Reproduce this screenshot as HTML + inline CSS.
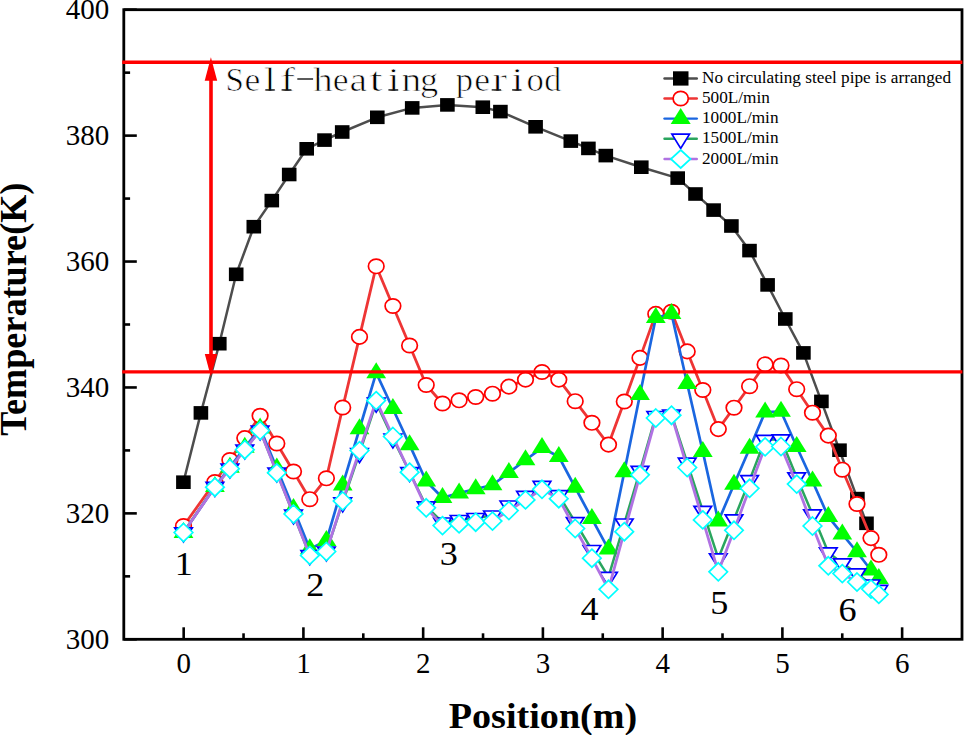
<!DOCTYPE html>
<html><head><meta charset="utf-8"><style>
html,body{margin:0;padding:0;background:#fff;width:964px;height:735px;overflow:hidden;font-family:"Liberation Serif",serif;}
svg{display:block;}
</style></head><body>
<svg width="964" height="735" viewBox="0 0 964 735"><rect x="123.8" y="9.7" width="838.2" height="629.5999999999999" fill="none" stroke="#000" stroke-width="2.8"/>
<line x1="123.8" y1="639.30" x2="136.8" y2="639.30" stroke="#000" stroke-width="2.6"/>
<line x1="123.8" y1="576.34" x2="130.1" y2="576.34" stroke="#000" stroke-width="2.6"/>
<line x1="123.8" y1="513.38" x2="136.8" y2="513.38" stroke="#000" stroke-width="2.6"/>
<line x1="123.8" y1="450.42" x2="130.1" y2="450.42" stroke="#000" stroke-width="2.6"/>
<line x1="123.8" y1="387.46" x2="136.8" y2="387.46" stroke="#000" stroke-width="2.6"/>
<line x1="123.8" y1="324.50" x2="130.1" y2="324.50" stroke="#000" stroke-width="2.6"/>
<line x1="123.8" y1="261.54" x2="136.8" y2="261.54" stroke="#000" stroke-width="2.6"/>
<line x1="123.8" y1="198.58" x2="130.1" y2="198.58" stroke="#000" stroke-width="2.6"/>
<line x1="123.8" y1="135.62" x2="136.8" y2="135.62" stroke="#000" stroke-width="2.6"/>
<line x1="123.8" y1="72.66" x2="130.1" y2="72.66" stroke="#000" stroke-width="2.6"/>
<line x1="123.8" y1="9.70" x2="136.8" y2="9.70" stroke="#000" stroke-width="2.6"/>
<line x1="183.67" y1="639.3" x2="183.67" y2="627.3" stroke="#000" stroke-width="2.6"/>
<line x1="243.54" y1="639.3" x2="243.54" y2="633.3" stroke="#000" stroke-width="2.6"/>
<line x1="303.41" y1="639.3" x2="303.41" y2="627.3" stroke="#000" stroke-width="2.6"/>
<line x1="363.29" y1="639.3" x2="363.29" y2="633.3" stroke="#000" stroke-width="2.6"/>
<line x1="423.16" y1="639.3" x2="423.16" y2="627.3" stroke="#000" stroke-width="2.6"/>
<line x1="483.03" y1="639.3" x2="483.03" y2="633.3" stroke="#000" stroke-width="2.6"/>
<line x1="542.90" y1="639.3" x2="542.90" y2="627.3" stroke="#000" stroke-width="2.6"/>
<line x1="602.77" y1="639.3" x2="602.77" y2="633.3" stroke="#000" stroke-width="2.6"/>
<line x1="662.64" y1="639.3" x2="662.64" y2="627.3" stroke="#000" stroke-width="2.6"/>
<line x1="722.51" y1="639.3" x2="722.51" y2="633.3" stroke="#000" stroke-width="2.6"/>
<line x1="782.39" y1="639.3" x2="782.39" y2="627.3" stroke="#000" stroke-width="2.6"/>
<line x1="842.26" y1="639.3" x2="842.26" y2="633.3" stroke="#000" stroke-width="2.6"/>
<line x1="902.13" y1="639.3" x2="902.13" y2="627.3" stroke="#000" stroke-width="2.6"/>
<polyline points="183.4,482.2 200.9,412.9 219.3,343.7 236.2,274.3 253.8,226.7 271.8,200.6 289.2,174.5 306.7,148.8 324.5,140.1 342.2,132.0 377.3,117.3 412.2,107.9 447.4,104.9 482.8,107.2 500.4,111.6 535.6,126.8 570.8,141.1 588.4,148.4 605.8,155.6 641.3,167.2 677.7,178.1 695.5,194.0 713.6,210.1 731.4,226.0 749.5,250.6 767.6,284.9 785.3,319.0 803.4,352.9 821.4,401.4 839.5,450.2 857.4,498.6 866.5,523.3" fill="none" stroke="#4d4d4d" stroke-width="2.5" stroke-linejoin="round" stroke-linecap="round"/>
<rect x="176.1" y="475.4" width="14.6" height="13.6" fill="#000"/>
<rect x="193.6" y="406.1" width="14.6" height="13.6" fill="#000"/>
<rect x="212.0" y="336.9" width="14.6" height="13.6" fill="#000"/>
<rect x="228.9" y="267.5" width="14.6" height="13.6" fill="#000"/>
<rect x="246.5" y="219.9" width="14.6" height="13.6" fill="#000"/>
<rect x="264.5" y="193.8" width="14.6" height="13.6" fill="#000"/>
<rect x="281.9" y="167.7" width="14.6" height="13.6" fill="#000"/>
<rect x="299.4" y="142.0" width="14.6" height="13.6" fill="#000"/>
<rect x="317.2" y="133.3" width="14.6" height="13.6" fill="#000"/>
<rect x="334.9" y="125.2" width="14.6" height="13.6" fill="#000"/>
<rect x="370.0" y="110.5" width="14.6" height="13.6" fill="#000"/>
<rect x="404.9" y="101.1" width="14.6" height="13.6" fill="#000"/>
<rect x="440.1" y="98.1" width="14.6" height="13.6" fill="#000"/>
<rect x="475.5" y="100.4" width="14.6" height="13.6" fill="#000"/>
<rect x="493.1" y="104.8" width="14.6" height="13.6" fill="#000"/>
<rect x="528.3" y="120.0" width="14.6" height="13.6" fill="#000"/>
<rect x="563.5" y="134.3" width="14.6" height="13.6" fill="#000"/>
<rect x="581.1" y="141.6" width="14.6" height="13.6" fill="#000"/>
<rect x="598.5" y="148.8" width="14.6" height="13.6" fill="#000"/>
<rect x="634.0" y="160.4" width="14.6" height="13.6" fill="#000"/>
<rect x="670.4" y="171.3" width="14.6" height="13.6" fill="#000"/>
<rect x="688.2" y="187.2" width="14.6" height="13.6" fill="#000"/>
<rect x="706.3" y="203.3" width="14.6" height="13.6" fill="#000"/>
<rect x="724.1" y="219.2" width="14.6" height="13.6" fill="#000"/>
<rect x="742.2" y="243.8" width="14.6" height="13.6" fill="#000"/>
<rect x="760.3" y="278.1" width="14.6" height="13.6" fill="#000"/>
<rect x="778.0" y="312.2" width="14.6" height="13.6" fill="#000"/>
<rect x="796.1" y="346.1" width="14.6" height="13.6" fill="#000"/>
<rect x="814.1" y="394.6" width="14.6" height="13.6" fill="#000"/>
<rect x="832.2" y="443.4" width="14.6" height="13.6" fill="#000"/>
<rect x="850.1" y="491.8" width="14.6" height="13.6" fill="#000"/>
<rect x="859.2" y="516.5" width="14.6" height="13.6" fill="#000"/>
<polyline points="183.5,526.0 214.9,482.0 229.9,460.0 244.8,438.1 260.1,415.8 276.8,443.5 293.5,471.5 309.8,499.2 326.4,478.3 342.7,407.5 359.5,336.9 376.2,266.3 392.9,306.0 409.6,345.5 426.2,385.0 442.5,403.5 459.1,400.3 475.7,397.0 492.5,393.7 508.9,386.6 525.5,379.6 542.0,372.0 558.8,379.6 575.2,401.2 591.9,422.8 608.5,444.6 624.3,401.5 640.0,357.9 655.8,313.9 671.5,311.8 687.2,351.4 702.8,390.0 718.3,429.1 734.0,407.7 749.6,386.2 765.1,364.4 781.0,365.5 796.7,389.2 812.5,412.7 828.3,435.6 842.3,469.7 857.0,504.0 871.0,538.1 878.8,554.8" fill="none" stroke="#ee3535" stroke-width="2.8" stroke-linejoin="round" stroke-linecap="round"/>
<ellipse cx="183.5" cy="526.0" rx="7.8" ry="7.2" fill="#fff" stroke="#ff0000" stroke-width="1.7"/>
<ellipse cx="214.9" cy="482.0" rx="7.8" ry="7.2" fill="#fff" stroke="#ff0000" stroke-width="1.7"/>
<ellipse cx="229.9" cy="460.0" rx="7.8" ry="7.2" fill="#fff" stroke="#ff0000" stroke-width="1.7"/>
<ellipse cx="244.8" cy="438.1" rx="7.8" ry="7.2" fill="#fff" stroke="#ff0000" stroke-width="1.7"/>
<ellipse cx="260.1" cy="415.8" rx="7.8" ry="7.2" fill="#fff" stroke="#ff0000" stroke-width="1.7"/>
<ellipse cx="276.8" cy="443.5" rx="7.8" ry="7.2" fill="#fff" stroke="#ff0000" stroke-width="1.7"/>
<ellipse cx="293.5" cy="471.5" rx="7.8" ry="7.2" fill="#fff" stroke="#ff0000" stroke-width="1.7"/>
<ellipse cx="309.8" cy="499.2" rx="7.8" ry="7.2" fill="#fff" stroke="#ff0000" stroke-width="1.7"/>
<ellipse cx="326.4" cy="478.3" rx="7.8" ry="7.2" fill="#fff" stroke="#ff0000" stroke-width="1.7"/>
<ellipse cx="342.7" cy="407.5" rx="7.8" ry="7.2" fill="#fff" stroke="#ff0000" stroke-width="1.7"/>
<ellipse cx="359.5" cy="336.9" rx="7.8" ry="7.2" fill="#fff" stroke="#ff0000" stroke-width="1.7"/>
<ellipse cx="376.2" cy="266.3" rx="7.8" ry="7.2" fill="#fff" stroke="#ff0000" stroke-width="1.7"/>
<ellipse cx="392.9" cy="306.0" rx="7.8" ry="7.2" fill="#fff" stroke="#ff0000" stroke-width="1.7"/>
<ellipse cx="409.6" cy="345.5" rx="7.8" ry="7.2" fill="#fff" stroke="#ff0000" stroke-width="1.7"/>
<ellipse cx="426.2" cy="385.0" rx="7.8" ry="7.2" fill="#fff" stroke="#ff0000" stroke-width="1.7"/>
<ellipse cx="442.5" cy="403.5" rx="7.8" ry="7.2" fill="#fff" stroke="#ff0000" stroke-width="1.7"/>
<ellipse cx="459.1" cy="400.3" rx="7.8" ry="7.2" fill="#fff" stroke="#ff0000" stroke-width="1.7"/>
<ellipse cx="475.7" cy="397.0" rx="7.8" ry="7.2" fill="#fff" stroke="#ff0000" stroke-width="1.7"/>
<ellipse cx="492.5" cy="393.7" rx="7.8" ry="7.2" fill="#fff" stroke="#ff0000" stroke-width="1.7"/>
<ellipse cx="508.9" cy="386.6" rx="7.8" ry="7.2" fill="#fff" stroke="#ff0000" stroke-width="1.7"/>
<ellipse cx="525.5" cy="379.6" rx="7.8" ry="7.2" fill="#fff" stroke="#ff0000" stroke-width="1.7"/>
<ellipse cx="542.0" cy="372.0" rx="7.8" ry="7.2" fill="#fff" stroke="#ff0000" stroke-width="1.7"/>
<ellipse cx="558.8" cy="379.6" rx="7.8" ry="7.2" fill="#fff" stroke="#ff0000" stroke-width="1.7"/>
<ellipse cx="575.2" cy="401.2" rx="7.8" ry="7.2" fill="#fff" stroke="#ff0000" stroke-width="1.7"/>
<ellipse cx="591.9" cy="422.8" rx="7.8" ry="7.2" fill="#fff" stroke="#ff0000" stroke-width="1.7"/>
<ellipse cx="608.5" cy="444.6" rx="7.8" ry="7.2" fill="#fff" stroke="#ff0000" stroke-width="1.7"/>
<ellipse cx="624.3" cy="401.5" rx="7.8" ry="7.2" fill="#fff" stroke="#ff0000" stroke-width="1.7"/>
<ellipse cx="640.0" cy="357.9" rx="7.8" ry="7.2" fill="#fff" stroke="#ff0000" stroke-width="1.7"/>
<ellipse cx="655.8" cy="313.9" rx="7.8" ry="7.2" fill="#fff" stroke="#ff0000" stroke-width="1.7"/>
<ellipse cx="671.5" cy="311.8" rx="7.8" ry="7.2" fill="#fff" stroke="#ff0000" stroke-width="1.7"/>
<ellipse cx="687.2" cy="351.4" rx="7.8" ry="7.2" fill="#fff" stroke="#ff0000" stroke-width="1.7"/>
<ellipse cx="702.8" cy="390.0" rx="7.8" ry="7.2" fill="#fff" stroke="#ff0000" stroke-width="1.7"/>
<ellipse cx="718.3" cy="429.1" rx="7.8" ry="7.2" fill="#fff" stroke="#ff0000" stroke-width="1.7"/>
<ellipse cx="734.0" cy="407.7" rx="7.8" ry="7.2" fill="#fff" stroke="#ff0000" stroke-width="1.7"/>
<ellipse cx="749.6" cy="386.2" rx="7.8" ry="7.2" fill="#fff" stroke="#ff0000" stroke-width="1.7"/>
<ellipse cx="765.1" cy="364.4" rx="7.8" ry="7.2" fill="#fff" stroke="#ff0000" stroke-width="1.7"/>
<ellipse cx="781.0" cy="365.5" rx="7.8" ry="7.2" fill="#fff" stroke="#ff0000" stroke-width="1.7"/>
<ellipse cx="796.7" cy="389.2" rx="7.8" ry="7.2" fill="#fff" stroke="#ff0000" stroke-width="1.7"/>
<ellipse cx="812.5" cy="412.7" rx="7.8" ry="7.2" fill="#fff" stroke="#ff0000" stroke-width="1.7"/>
<ellipse cx="828.3" cy="435.6" rx="7.8" ry="7.2" fill="#fff" stroke="#ff0000" stroke-width="1.7"/>
<ellipse cx="842.3" cy="469.7" rx="7.8" ry="7.2" fill="#fff" stroke="#ff0000" stroke-width="1.7"/>
<ellipse cx="857.0" cy="504.0" rx="7.8" ry="7.2" fill="#fff" stroke="#ff0000" stroke-width="1.7"/>
<ellipse cx="871.0" cy="538.1" rx="7.8" ry="7.2" fill="#fff" stroke="#ff0000" stroke-width="1.7"/>
<ellipse cx="878.8" cy="554.8" rx="7.8" ry="7.2" fill="#fff" stroke="#ff0000" stroke-width="1.7"/>
<polyline points="183.5,532.7 214.9,486.7 229.9,467.4 244.8,447.5 260.1,428.2 276.8,468.3 293.5,508.8 309.8,548.9 326.4,540.8 342.7,485.1 359.5,429.0 376.2,372.9 392.9,408.8 409.6,444.9 426.2,481.3 442.5,497.7 459.1,493.1 475.7,489.0 492.5,485.0 508.9,472.6 525.5,460.0 542.0,447.8 558.8,456.7 575.2,487.5 591.9,518.7 608.5,549.3 624.3,471.9 640.0,394.6 655.8,317.7 671.5,313.8 687.2,383.7 702.8,451.7 718.3,521.3 734.0,484.5 749.6,448.5 765.1,412.1 781.0,411.5 796.7,446.8 812.5,481.3 828.3,516.7 842.3,534.1 857.0,552.0 871.0,570.2 878.8,578.7" fill="none" stroke="#1a66e0" stroke-width="2.7" stroke-linejoin="round" stroke-linecap="round"/>
<path d="M183.5 522.0L193.4 538.0L173.6 538.0Z" fill="#00ff00"/>
<path d="M214.9 476.0L224.8 492.0L205.0 492.0Z" fill="#00ff00"/>
<path d="M229.9 456.7L239.8 472.7L220.0 472.7Z" fill="#00ff00"/>
<path d="M244.8 436.8L254.7 452.8L234.9 452.8Z" fill="#00ff00"/>
<path d="M260.1 417.5L270.0 433.5L250.2 433.5Z" fill="#00ff00"/>
<path d="M276.8 457.6L286.7 473.6L266.9 473.6Z" fill="#00ff00"/>
<path d="M293.5 498.1L303.4 514.1L283.6 514.1Z" fill="#00ff00"/>
<path d="M309.8 538.2L319.7 554.2L299.9 554.2Z" fill="#00ff00"/>
<path d="M326.4 530.1L336.3 546.1L316.5 546.1Z" fill="#00ff00"/>
<path d="M342.7 474.4L352.6 490.4L332.8 490.4Z" fill="#00ff00"/>
<path d="M359.5 418.3L369.4 434.3L349.6 434.3Z" fill="#00ff00"/>
<path d="M376.2 362.2L386.1 378.2L366.3 378.2Z" fill="#00ff00"/>
<path d="M392.9 398.1L402.8 414.1L383.0 414.1Z" fill="#00ff00"/>
<path d="M409.6 434.2L419.5 450.2L399.7 450.2Z" fill="#00ff00"/>
<path d="M426.2 470.6L436.1 486.6L416.3 486.6Z" fill="#00ff00"/>
<path d="M442.5 487.0L452.4 503.0L432.6 503.0Z" fill="#00ff00"/>
<path d="M459.1 482.4L469.0 498.4L449.2 498.4Z" fill="#00ff00"/>
<path d="M475.7 478.3L485.6 494.3L465.8 494.3Z" fill="#00ff00"/>
<path d="M492.5 474.3L502.4 490.3L482.6 490.3Z" fill="#00ff00"/>
<path d="M508.9 461.9L518.8 477.9L499.0 477.9Z" fill="#00ff00"/>
<path d="M525.5 449.3L535.4 465.3L515.6 465.3Z" fill="#00ff00"/>
<path d="M542.0 437.1L551.9 453.1L532.1 453.1Z" fill="#00ff00"/>
<path d="M558.8 446.0L568.7 462.0L548.9 462.0Z" fill="#00ff00"/>
<path d="M575.2 476.8L585.1 492.8L565.3 492.8Z" fill="#00ff00"/>
<path d="M591.9 508.0L601.8 524.0L582.0 524.0Z" fill="#00ff00"/>
<path d="M608.5 538.6L618.4 554.6L598.6 554.6Z" fill="#00ff00"/>
<path d="M624.3 461.2L634.2 477.2L614.4 477.2Z" fill="#00ff00"/>
<path d="M640.0 383.9L649.9 399.9L630.1 399.9Z" fill="#00ff00"/>
<path d="M655.8 307.0L665.7 323.0L645.9 323.0Z" fill="#00ff00"/>
<path d="M671.5 303.1L681.4 319.1L661.6 319.1Z" fill="#00ff00"/>
<path d="M687.2 373.0L697.1 389.0L677.3 389.0Z" fill="#00ff00"/>
<path d="M702.8 441.0L712.7 457.0L692.9 457.0Z" fill="#00ff00"/>
<path d="M718.3 510.6L728.2 526.6L708.4 526.6Z" fill="#00ff00"/>
<path d="M734.0 473.8L743.9 489.8L724.1 489.8Z" fill="#00ff00"/>
<path d="M749.6 437.8L759.5 453.8L739.7 453.8Z" fill="#00ff00"/>
<path d="M765.1 401.4L775.0 417.4L755.2 417.4Z" fill="#00ff00"/>
<path d="M781.0 400.8L790.9 416.8L771.1 416.8Z" fill="#00ff00"/>
<path d="M796.7 436.1L806.6 452.1L786.8 452.1Z" fill="#00ff00"/>
<path d="M812.5 470.6L822.4 486.6L802.6 486.6Z" fill="#00ff00"/>
<path d="M828.3 506.0L838.2 522.0L818.4 522.0Z" fill="#00ff00"/>
<path d="M842.3 523.4L852.2 539.4L832.4 539.4Z" fill="#00ff00"/>
<path d="M857.0 541.3L866.9 557.3L847.1 557.3Z" fill="#00ff00"/>
<path d="M871.0 559.5L880.9 575.5L861.1 575.5Z" fill="#00ff00"/>
<path d="M878.8 568.0L888.7 584.0L868.9 584.0Z" fill="#00ff00"/>
<polyline points="183.5,532.3 214.9,486.9 229.9,468.5 244.8,449.5 260.1,430.5 276.8,472.5 293.5,514.5 309.8,555.2 326.4,551.5 342.7,502.3 359.5,453.2 376.2,402.6 392.9,438.5 409.6,472.0 426.2,506.3 442.5,522.5 459.1,520.0 475.7,518.0 492.5,515.5 508.9,505.5 525.5,495.9 542.0,485.9 558.8,495.1 575.2,522.2 591.9,550.0 608.5,576.9 624.3,523.5 640.0,470.8 655.8,416.0 671.5,414.5 687.2,462.7 702.8,510.8 718.3,558.3 734.0,519.3 749.6,480.1 765.1,439.8 781.0,439.3 796.7,477.3 812.5,514.3 828.3,552.4 842.3,563.3 857.0,573.3 871.0,584.5 878.8,589.9" fill="none" stroke="#2aa55e" stroke-width="2.5" stroke-linejoin="round" stroke-linecap="round"/>
<path d="M174.7 527.8L192.3 527.8L183.5 541.8Z" fill="#fff" stroke="#0000ff" stroke-width="1.7" stroke-linejoin="miter"/>
<path d="M206.1 482.4L223.7 482.4L214.9 496.4Z" fill="#fff" stroke="#0000ff" stroke-width="1.7" stroke-linejoin="miter"/>
<path d="M221.1 464.0L238.7 464.0L229.9 478.0Z" fill="#fff" stroke="#0000ff" stroke-width="1.7" stroke-linejoin="miter"/>
<path d="M236.0 445.0L253.6 445.0L244.8 459.0Z" fill="#fff" stroke="#0000ff" stroke-width="1.7" stroke-linejoin="miter"/>
<path d="M251.3 426.0L268.9 426.0L260.1 440.0Z" fill="#fff" stroke="#0000ff" stroke-width="1.7" stroke-linejoin="miter"/>
<path d="M268.0 468.0L285.6 468.0L276.8 482.0Z" fill="#fff" stroke="#0000ff" stroke-width="1.7" stroke-linejoin="miter"/>
<path d="M284.7 510.0L302.3 510.0L293.5 524.0Z" fill="#fff" stroke="#0000ff" stroke-width="1.7" stroke-linejoin="miter"/>
<path d="M301.0 550.7L318.6 550.7L309.8 564.7Z" fill="#fff" stroke="#0000ff" stroke-width="1.7" stroke-linejoin="miter"/>
<path d="M317.6 547.0L335.2 547.0L326.4 561.0Z" fill="#fff" stroke="#0000ff" stroke-width="1.7" stroke-linejoin="miter"/>
<path d="M333.9 497.8L351.5 497.8L342.7 511.8Z" fill="#fff" stroke="#0000ff" stroke-width="1.7" stroke-linejoin="miter"/>
<path d="M350.7 448.7L368.3 448.7L359.5 462.7Z" fill="#fff" stroke="#0000ff" stroke-width="1.7" stroke-linejoin="miter"/>
<path d="M367.4 398.1L385.0 398.1L376.2 412.1Z" fill="#fff" stroke="#0000ff" stroke-width="1.7" stroke-linejoin="miter"/>
<path d="M384.1 434.0L401.7 434.0L392.9 448.0Z" fill="#fff" stroke="#0000ff" stroke-width="1.7" stroke-linejoin="miter"/>
<path d="M400.8 467.5L418.4 467.5L409.6 481.5Z" fill="#fff" stroke="#0000ff" stroke-width="1.7" stroke-linejoin="miter"/>
<path d="M417.4 501.8L435.0 501.8L426.2 515.8Z" fill="#fff" stroke="#0000ff" stroke-width="1.7" stroke-linejoin="miter"/>
<path d="M433.7 518.0L451.3 518.0L442.5 532.0Z" fill="#fff" stroke="#0000ff" stroke-width="1.7" stroke-linejoin="miter"/>
<path d="M450.3 515.5L467.9 515.5L459.1 529.5Z" fill="#fff" stroke="#0000ff" stroke-width="1.7" stroke-linejoin="miter"/>
<path d="M466.9 513.5L484.5 513.5L475.7 527.5Z" fill="#fff" stroke="#0000ff" stroke-width="1.7" stroke-linejoin="miter"/>
<path d="M483.7 511.0L501.3 511.0L492.5 525.0Z" fill="#fff" stroke="#0000ff" stroke-width="1.7" stroke-linejoin="miter"/>
<path d="M500.1 501.0L517.7 501.0L508.9 515.0Z" fill="#fff" stroke="#0000ff" stroke-width="1.7" stroke-linejoin="miter"/>
<path d="M516.7 491.4L534.3 491.4L525.5 505.4Z" fill="#fff" stroke="#0000ff" stroke-width="1.7" stroke-linejoin="miter"/>
<path d="M533.2 481.4L550.8 481.4L542.0 495.4Z" fill="#fff" stroke="#0000ff" stroke-width="1.7" stroke-linejoin="miter"/>
<path d="M550.0 490.6L567.6 490.6L558.8 504.6Z" fill="#fff" stroke="#0000ff" stroke-width="1.7" stroke-linejoin="miter"/>
<path d="M566.4 517.7L584.0 517.7L575.2 531.7Z" fill="#fff" stroke="#0000ff" stroke-width="1.7" stroke-linejoin="miter"/>
<path d="M583.1 545.5L600.7 545.5L591.9 559.5Z" fill="#fff" stroke="#0000ff" stroke-width="1.7" stroke-linejoin="miter"/>
<path d="M599.7 572.4L617.3 572.4L608.5 586.4Z" fill="#fff" stroke="#0000ff" stroke-width="1.7" stroke-linejoin="miter"/>
<path d="M615.5 519.0L633.1 519.0L624.3 533.0Z" fill="#fff" stroke="#0000ff" stroke-width="1.7" stroke-linejoin="miter"/>
<path d="M631.2 466.3L648.8 466.3L640.0 480.3Z" fill="#fff" stroke="#0000ff" stroke-width="1.7" stroke-linejoin="miter"/>
<path d="M647.0 411.5L664.6 411.5L655.8 425.5Z" fill="#fff" stroke="#0000ff" stroke-width="1.7" stroke-linejoin="miter"/>
<path d="M662.7 410.0L680.3 410.0L671.5 424.0Z" fill="#fff" stroke="#0000ff" stroke-width="1.7" stroke-linejoin="miter"/>
<path d="M678.4 458.2L696.0 458.2L687.2 472.2Z" fill="#fff" stroke="#0000ff" stroke-width="1.7" stroke-linejoin="miter"/>
<path d="M694.0 506.3L711.6 506.3L702.8 520.3Z" fill="#fff" stroke="#0000ff" stroke-width="1.7" stroke-linejoin="miter"/>
<path d="M709.5 553.8L727.1 553.8L718.3 567.8Z" fill="#fff" stroke="#0000ff" stroke-width="1.7" stroke-linejoin="miter"/>
<path d="M725.2 514.8L742.8 514.8L734.0 528.8Z" fill="#fff" stroke="#0000ff" stroke-width="1.7" stroke-linejoin="miter"/>
<path d="M740.8 475.6L758.4 475.6L749.6 489.6Z" fill="#fff" stroke="#0000ff" stroke-width="1.7" stroke-linejoin="miter"/>
<path d="M756.3 435.3L773.9 435.3L765.1 449.3Z" fill="#fff" stroke="#0000ff" stroke-width="1.7" stroke-linejoin="miter"/>
<path d="M772.2 434.8L789.8 434.8L781.0 448.8Z" fill="#fff" stroke="#0000ff" stroke-width="1.7" stroke-linejoin="miter"/>
<path d="M787.9 472.8L805.5 472.8L796.7 486.8Z" fill="#fff" stroke="#0000ff" stroke-width="1.7" stroke-linejoin="miter"/>
<path d="M803.7 509.8L821.3 509.8L812.5 523.8Z" fill="#fff" stroke="#0000ff" stroke-width="1.7" stroke-linejoin="miter"/>
<path d="M819.5 547.9L837.1 547.9L828.3 561.9Z" fill="#fff" stroke="#0000ff" stroke-width="1.7" stroke-linejoin="miter"/>
<path d="M833.5 558.8L851.1 558.8L842.3 572.8Z" fill="#fff" stroke="#0000ff" stroke-width="1.7" stroke-linejoin="miter"/>
<path d="M848.2 568.8L865.8 568.8L857.0 582.8Z" fill="#fff" stroke="#0000ff" stroke-width="1.7" stroke-linejoin="miter"/>
<path d="M862.2 580.0L879.8 580.0L871.0 594.0Z" fill="#fff" stroke="#0000ff" stroke-width="1.7" stroke-linejoin="miter"/>
<path d="M870.0 585.4L887.6 585.4L878.8 599.4Z" fill="#fff" stroke="#0000ff" stroke-width="1.7" stroke-linejoin="miter"/>
<polyline points="183.5,532.5 214.9,487.2 229.9,468.7 244.8,449.7 260.1,430.6 276.8,472.8 293.5,514.0 309.8,555.4 326.4,551.5 342.7,501.0 359.5,450.6 376.2,400.6 392.9,436.5 409.6,472.2 426.2,507.8 442.5,525.6 459.1,523.9 475.7,522.2 492.5,521.1 508.9,510.6 525.5,499.9 542.0,489.3 558.8,498.7 575.2,528.5 591.9,558.2 608.5,589.3 624.3,531.7 640.0,474.8 655.8,418.0 671.5,415.2 687.2,467.5 702.8,519.9 718.3,571.8 734.0,530.3 749.6,488.3 765.1,446.9 781.0,446.5 796.7,484.1 812.5,526.0 828.3,565.8 842.3,573.6 857.0,582.0 871.0,589.0 878.8,594.4" fill="none" stroke="#b072e2" stroke-width="2.8" stroke-linejoin="round" stroke-linecap="round"/>
<path d="M183.5 523.5L192.8 532.5L183.5 541.5L174.2 532.5Z" fill="#fff" stroke="#00ffff" stroke-width="1.7"/>
<path d="M214.9 478.2L224.2 487.2L214.9 496.2L205.7 487.2Z" fill="#fff" stroke="#00ffff" stroke-width="1.7"/>
<path d="M229.9 459.7L239.2 468.7L229.9 477.7L220.7 468.7Z" fill="#fff" stroke="#00ffff" stroke-width="1.7"/>
<path d="M244.8 440.7L254.1 449.7L244.8 458.7L235.6 449.7Z" fill="#fff" stroke="#00ffff" stroke-width="1.7"/>
<path d="M260.1 421.6L269.4 430.6L260.1 439.6L250.9 430.6Z" fill="#fff" stroke="#00ffff" stroke-width="1.7"/>
<path d="M276.8 463.8L286.1 472.8L276.8 481.8L267.6 472.8Z" fill="#fff" stroke="#00ffff" stroke-width="1.7"/>
<path d="M293.5 505.0L302.8 514.0L293.5 523.0L284.2 514.0Z" fill="#fff" stroke="#00ffff" stroke-width="1.7"/>
<path d="M309.8 546.4L319.1 555.4L309.8 564.4L300.6 555.4Z" fill="#fff" stroke="#00ffff" stroke-width="1.7"/>
<path d="M326.4 542.5L335.6 551.5L326.4 560.5L317.1 551.5Z" fill="#fff" stroke="#00ffff" stroke-width="1.7"/>
<path d="M342.7 492.0L351.9 501.0L342.7 510.0L333.4 501.0Z" fill="#fff" stroke="#00ffff" stroke-width="1.7"/>
<path d="M359.5 441.6L368.8 450.6L359.5 459.6L350.2 450.6Z" fill="#fff" stroke="#00ffff" stroke-width="1.7"/>
<path d="M376.2 391.6L385.4 400.6L376.2 409.6L366.9 400.6Z" fill="#fff" stroke="#00ffff" stroke-width="1.7"/>
<path d="M392.9 427.5L402.1 436.5L392.9 445.5L383.6 436.5Z" fill="#fff" stroke="#00ffff" stroke-width="1.7"/>
<path d="M409.6 463.2L418.9 472.2L409.6 481.2L400.4 472.2Z" fill="#fff" stroke="#00ffff" stroke-width="1.7"/>
<path d="M426.2 498.8L435.4 507.8L426.2 516.8L416.9 507.8Z" fill="#fff" stroke="#00ffff" stroke-width="1.7"/>
<path d="M442.5 516.6L451.8 525.6L442.5 534.6L433.2 525.6Z" fill="#fff" stroke="#00ffff" stroke-width="1.7"/>
<path d="M459.1 514.9L468.4 523.9L459.1 532.9L449.9 523.9Z" fill="#fff" stroke="#00ffff" stroke-width="1.7"/>
<path d="M475.7 513.2L484.9 522.2L475.7 531.2L466.4 522.2Z" fill="#fff" stroke="#00ffff" stroke-width="1.7"/>
<path d="M492.5 512.1L501.8 521.1L492.5 530.1L483.2 521.1Z" fill="#fff" stroke="#00ffff" stroke-width="1.7"/>
<path d="M508.9 501.6L518.1 510.6L508.9 519.6L499.6 510.6Z" fill="#fff" stroke="#00ffff" stroke-width="1.7"/>
<path d="M525.5 490.9L534.8 499.9L525.5 508.9L516.2 499.9Z" fill="#fff" stroke="#00ffff" stroke-width="1.7"/>
<path d="M542.0 480.3L551.2 489.3L542.0 498.3L532.8 489.3Z" fill="#fff" stroke="#00ffff" stroke-width="1.7"/>
<path d="M558.8 489.7L568.0 498.7L558.8 507.7L549.5 498.7Z" fill="#fff" stroke="#00ffff" stroke-width="1.7"/>
<path d="M575.2 519.5L584.5 528.5L575.2 537.5L566.0 528.5Z" fill="#fff" stroke="#00ffff" stroke-width="1.7"/>
<path d="M591.9 549.2L601.1 558.2L591.9 567.2L582.6 558.2Z" fill="#fff" stroke="#00ffff" stroke-width="1.7"/>
<path d="M608.5 580.3L617.8 589.3L608.5 598.3L599.2 589.3Z" fill="#fff" stroke="#00ffff" stroke-width="1.7"/>
<path d="M624.3 522.7L633.5 531.7L624.3 540.7L615.0 531.7Z" fill="#fff" stroke="#00ffff" stroke-width="1.7"/>
<path d="M640.0 465.8L649.2 474.8L640.0 483.8L630.8 474.8Z" fill="#fff" stroke="#00ffff" stroke-width="1.7"/>
<path d="M655.8 409.0L665.0 418.0L655.8 427.0L646.5 418.0Z" fill="#fff" stroke="#00ffff" stroke-width="1.7"/>
<path d="M671.5 406.2L680.8 415.2L671.5 424.2L662.2 415.2Z" fill="#fff" stroke="#00ffff" stroke-width="1.7"/>
<path d="M687.2 458.5L696.5 467.5L687.2 476.5L678.0 467.5Z" fill="#fff" stroke="#00ffff" stroke-width="1.7"/>
<path d="M702.8 510.9L712.0 519.9L702.8 528.9L693.5 519.9Z" fill="#fff" stroke="#00ffff" stroke-width="1.7"/>
<path d="M718.3 562.8L727.5 571.8L718.3 580.8L709.0 571.8Z" fill="#fff" stroke="#00ffff" stroke-width="1.7"/>
<path d="M734.0 521.3L743.2 530.3L734.0 539.3L724.8 530.3Z" fill="#fff" stroke="#00ffff" stroke-width="1.7"/>
<path d="M749.6 479.3L758.9 488.3L749.6 497.3L740.4 488.3Z" fill="#fff" stroke="#00ffff" stroke-width="1.7"/>
<path d="M765.1 437.9L774.4 446.9L765.1 455.9L755.9 446.9Z" fill="#fff" stroke="#00ffff" stroke-width="1.7"/>
<path d="M781.0 437.5L790.2 446.5L781.0 455.5L771.8 446.5Z" fill="#fff" stroke="#00ffff" stroke-width="1.7"/>
<path d="M796.7 475.1L806.0 484.1L796.7 493.1L787.5 484.1Z" fill="#fff" stroke="#00ffff" stroke-width="1.7"/>
<path d="M812.5 517.0L821.8 526.0L812.5 535.0L803.2 526.0Z" fill="#fff" stroke="#00ffff" stroke-width="1.7"/>
<path d="M828.3 556.8L837.5 565.8L828.3 574.8L819.0 565.8Z" fill="#fff" stroke="#00ffff" stroke-width="1.7"/>
<path d="M842.3 564.6L851.5 573.6L842.3 582.6L833.0 573.6Z" fill="#fff" stroke="#00ffff" stroke-width="1.7"/>
<path d="M857.0 573.0L866.2 582.0L857.0 591.0L847.8 582.0Z" fill="#fff" stroke="#00ffff" stroke-width="1.7"/>
<path d="M871.0 580.0L880.2 589.0L871.0 598.0L861.8 589.0Z" fill="#fff" stroke="#00ffff" stroke-width="1.7"/>
<path d="M878.8 585.4L888.0 594.4L878.8 603.4L869.5 594.4Z" fill="#fff" stroke="#00ffff" stroke-width="1.7"/>
<line x1="122.2" y1="62.3" x2="962.4" y2="62.3" stroke="#ff0000" stroke-width="3.4"/>
<line x1="122.2" y1="371.9" x2="962.4" y2="371.9" stroke="#ff0000" stroke-width="3.4"/>
<line x1="211" y1="78" x2="211" y2="356" stroke="#ff0000" stroke-width="3.6"/>
<path d="M210.9 57.3L217.2 80.7L204.7 80.7Z" fill="#ff0000"/>
<path d="M210.8 376.6L217.2 354L204.8 354Z" fill="#ff0000"/>
<text x="0" y="0" font-family="Liberation Serif" font-size="33" text-anchor="middle" fill="#000" stroke="#fff" stroke-width="0.7" transform="translate(234.70,90.5) scale(1.0,1)">S</text>
<text x="0" y="0" font-family="Liberation Serif" font-size="33" text-anchor="middle" fill="#000" stroke="#fff" stroke-width="0.7" transform="translate(252.37,90.5) scale(1.08,1)">e</text>
<text x="0" y="0" font-family="Liberation Serif" font-size="33" text-anchor="middle" fill="#000" stroke="#fff" stroke-width="0.7" transform="translate(270.04,90.5) scale(1.3,1)">l</text>
<text x="0" y="0" font-family="Liberation Serif" font-size="33" text-anchor="middle" fill="#000" stroke="#fff" stroke-width="0.7" transform="translate(287.71,90.5) scale(1.35,1)">f</text>
<text x="0" y="0" font-family="Liberation Serif" font-size="33" text-anchor="middle" fill="#000" stroke="#fff" stroke-width="0.7" transform="translate(323.05,90.5) scale(1.18,1)">h</text>
<text x="0" y="0" font-family="Liberation Serif" font-size="33" text-anchor="middle" fill="#000" stroke="#fff" stroke-width="0.7" transform="translate(340.72,90.5) scale(1.08,1)">e</text>
<text x="0" y="0" font-family="Liberation Serif" font-size="33" text-anchor="middle" fill="#000" stroke="#fff" stroke-width="0.7" transform="translate(358.39,90.5) scale(1.2,1)">a</text>
<text x="0" y="0" font-family="Liberation Serif" font-size="33" text-anchor="middle" fill="#000" stroke="#fff" stroke-width="0.7" transform="translate(376.06,90.5) scale(1.45,1)">t</text>
<text x="0" y="0" font-family="Liberation Serif" font-size="33" text-anchor="middle" fill="#000" stroke="#fff" stroke-width="0.7" transform="translate(393.73,90.5) scale(1.3,1)">i</text>
<text x="0" y="0" font-family="Liberation Serif" font-size="33" text-anchor="middle" fill="#000" stroke="#fff" stroke-width="0.7" transform="translate(411.40,90.5) scale(1.2,1)">n</text>
<text x="0" y="0" font-family="Liberation Serif" font-size="33" text-anchor="middle" fill="#000" stroke="#fff" stroke-width="0.7" transform="translate(429.07,90.5) scale(1.1,1)">g</text>
<text x="0" y="0" font-family="Liberation Serif" font-size="33" text-anchor="middle" fill="#000" stroke="#fff" stroke-width="0.7" transform="translate(464.41,90.5) scale(1.05,1)">p</text>
<text x="0" y="0" font-family="Liberation Serif" font-size="33" text-anchor="middle" fill="#000" stroke="#fff" stroke-width="0.7" transform="translate(482.08,90.5) scale(1.08,1)">e</text>
<text x="0" y="0" font-family="Liberation Serif" font-size="33" text-anchor="middle" fill="#000" stroke="#fff" stroke-width="0.7" transform="translate(499.75,90.5) scale(1.35,1)">r</text>
<text x="0" y="0" font-family="Liberation Serif" font-size="33" text-anchor="middle" fill="#000" stroke="#fff" stroke-width="0.7" transform="translate(517.42,90.5) scale(1.3,1)">i</text>
<text x="0" y="0" font-family="Liberation Serif" font-size="33" text-anchor="middle" fill="#000" stroke="#fff" stroke-width="0.7" transform="translate(535.09,90.5) scale(1.05,1)">o</text>
<text x="0" y="0" font-family="Liberation Serif" font-size="33" text-anchor="middle" fill="#000" stroke="#fff" stroke-width="0.7" transform="translate(552.76,90.5) scale(1.03,1)">d</text>
<line x1="297.3" y1="79" x2="313.1" y2="79" stroke="#333" stroke-width="1.6"/>
<line x1="265.3" y1="89.9" x2="274.8" y2="89.9" stroke="#111" stroke-width="1.3"/>
<line x1="281.6" y1="89.9" x2="291.4" y2="89.9" stroke="#111" stroke-width="1.3"/>
<line x1="388.4" y1="89.9" x2="398.2" y2="89.9" stroke="#111" stroke-width="1.3"/>
<line x1="491.7" y1="89.9" x2="501.1" y2="89.9" stroke="#111" stroke-width="1.3"/>
<line x1="512.1" y1="89.9" x2="521.4" y2="89.9" stroke="#111" stroke-width="1.3"/>
<line x1="664.5" y1="78.5" x2="696.8" y2="78.5" stroke="#4d4d4d" stroke-width="2.4" stroke-linecap="round"/>
<rect x="673.0" y="71.3" width="15.5" height="14.3" fill="#000"/>
<text x="702.0" y="83.3" font-family="Liberation Serif" font-size="16.8" fill="#000" transform="translate(702,0) scale(1.026,1) translate(-702,0)">No circulating steel pipe is arranged</text>
<line x1="664.5" y1="98.5" x2="696.8" y2="98.5" stroke="#ee3535" stroke-width="2.4" stroke-linecap="round"/>
<ellipse cx="680.7" cy="98.5" rx="7.6" ry="7.2" fill="#fff" stroke="#ff0000" stroke-width="1.7"/>
<text x="702.0" y="103.3" font-family="Liberation Serif" font-size="16.8" fill="#000" transform="translate(702,0) scale(1.026,1) translate(-702,0)">500L/min</text>
<line x1="664.5" y1="118.6" x2="696.8" y2="118.6" stroke="#1a66e0" stroke-width="2.4" stroke-linecap="round"/>
<path d="M680.7 107.9L690.7 123.9L670.7 123.9Z" fill="#00ff00"/>
<text x="702.0" y="123.4" font-family="Liberation Serif" font-size="16.8" fill="#000" transform="translate(702,0) scale(1.026,1) translate(-702,0)">1000L/min</text>
<line x1="664.5" y1="138.7" x2="696.8" y2="138.7" stroke="#2aa55e" stroke-width="2.4" stroke-linecap="round"/>
<path d="M671.9 134.2L689.5 134.2L680.7 148.4Z" fill="#fff" stroke="#0000ff" stroke-width="1.7" stroke-linejoin="miter"/>
<text x="702.0" y="143.5" font-family="Liberation Serif" font-size="16.8" fill="#000" transform="translate(702,0) scale(1.026,1) translate(-702,0)">1500L/min</text>
<line x1="664.5" y1="159.0" x2="696.8" y2="159.0" stroke="#b072e2" stroke-width="2.4" stroke-linecap="round"/>
<path d="M680.7 150.0L690.5 159.0L680.7 168.0L670.9 159.0Z" fill="#fff" stroke="#00ffff" stroke-width="1.7"/>
<text x="702.0" y="163.8" font-family="Liberation Serif" font-size="16.8" fill="#000" transform="translate(702,0) scale(1.026,1) translate(-702,0)">2000L/min</text>
<text x="0" y="0" font-family="Liberation Serif" font-size="29" font-weight="normal" text-anchor="end" fill="#000" transform="translate(109.20,648.90) scale(1.0,1)">300</text>
<text x="0" y="0" font-family="Liberation Serif" font-size="29" font-weight="normal" text-anchor="end" fill="#000" transform="translate(109.20,522.98) scale(1.0,1)">320</text>
<text x="0" y="0" font-family="Liberation Serif" font-size="29" font-weight="normal" text-anchor="end" fill="#000" transform="translate(109.20,397.06) scale(1.0,1)">340</text>
<text x="0" y="0" font-family="Liberation Serif" font-size="29" font-weight="normal" text-anchor="end" fill="#000" transform="translate(109.20,271.14) scale(1.0,1)">360</text>
<text x="0" y="0" font-family="Liberation Serif" font-size="29" font-weight="normal" text-anchor="end" fill="#000" transform="translate(109.20,145.22) scale(1.0,1)">380</text>
<text x="0" y="0" font-family="Liberation Serif" font-size="29" font-weight="normal" text-anchor="end" fill="#000" transform="translate(109.20,19.30) scale(1.0,1)">400</text>
<text x="0" y="0" font-family="Liberation Serif" font-size="29" font-weight="normal" text-anchor="middle" fill="#000" transform="translate(183.67,673.30) scale(1.0,1)">0</text>
<text x="0" y="0" font-family="Liberation Serif" font-size="29" font-weight="normal" text-anchor="middle" fill="#000" transform="translate(303.41,673.30) scale(1.0,1)">1</text>
<text x="0" y="0" font-family="Liberation Serif" font-size="29" font-weight="normal" text-anchor="middle" fill="#000" transform="translate(423.16,673.30) scale(1.0,1)">2</text>
<text x="0" y="0" font-family="Liberation Serif" font-size="29" font-weight="normal" text-anchor="middle" fill="#000" transform="translate(542.90,673.30) scale(1.0,1)">3</text>
<text x="0" y="0" font-family="Liberation Serif" font-size="29" font-weight="normal" text-anchor="middle" fill="#000" transform="translate(662.64,673.30) scale(1.0,1)">4</text>
<text x="0" y="0" font-family="Liberation Serif" font-size="29" font-weight="normal" text-anchor="middle" fill="#000" transform="translate(782.39,673.30) scale(1.0,1)">5</text>
<text x="0" y="0" font-family="Liberation Serif" font-size="29" font-weight="normal" text-anchor="middle" fill="#000" transform="translate(902.13,673.30) scale(1.0,1)">6</text>
<text x="0" y="0" font-family="Liberation Serif" font-size="33.5" font-weight="normal" text-anchor="middle" fill="#000" transform="translate(183.80,574.60) scale(1.08,1)">1</text>
<text x="0" y="0" font-family="Liberation Serif" font-size="33.5" font-weight="normal" text-anchor="middle" fill="#000" transform="translate(315.20,595.50) scale(1.08,1)">2</text>
<text x="0" y="0" font-family="Liberation Serif" font-size="33.5" font-weight="normal" text-anchor="middle" fill="#000" transform="translate(448.80,564.50) scale(1.08,1)">3</text>
<text x="0" y="0" font-family="Liberation Serif" font-size="33.5" font-weight="normal" text-anchor="middle" fill="#000" transform="translate(589.50,619.80) scale(1.08,1)">4</text>
<text x="0" y="0" font-family="Liberation Serif" font-size="33.5" font-weight="normal" text-anchor="middle" fill="#000" transform="translate(719.20,614.30) scale(1.08,1)">5</text>
<text x="0" y="0" font-family="Liberation Serif" font-size="33.5" font-weight="normal" text-anchor="middle" fill="#000" transform="translate(847.60,621.30) scale(1.08,1)">6</text>
<text x="0" y="0" font-family="Liberation Serif" font-size="36" font-weight="bold" text-anchor="middle" fill="#000" transform="translate(543.00,727.90) scale(1.06,1)">Position(m)</text>
<text x="0" y="0" font-family="Liberation Serif" font-size="36.2" font-weight="bold" text-anchor="middle" fill="#000" transform="translate(25.9,309.2) rotate(-90) scale(1,1.065)">Temperature(K)</text></svg>
</body></html>
